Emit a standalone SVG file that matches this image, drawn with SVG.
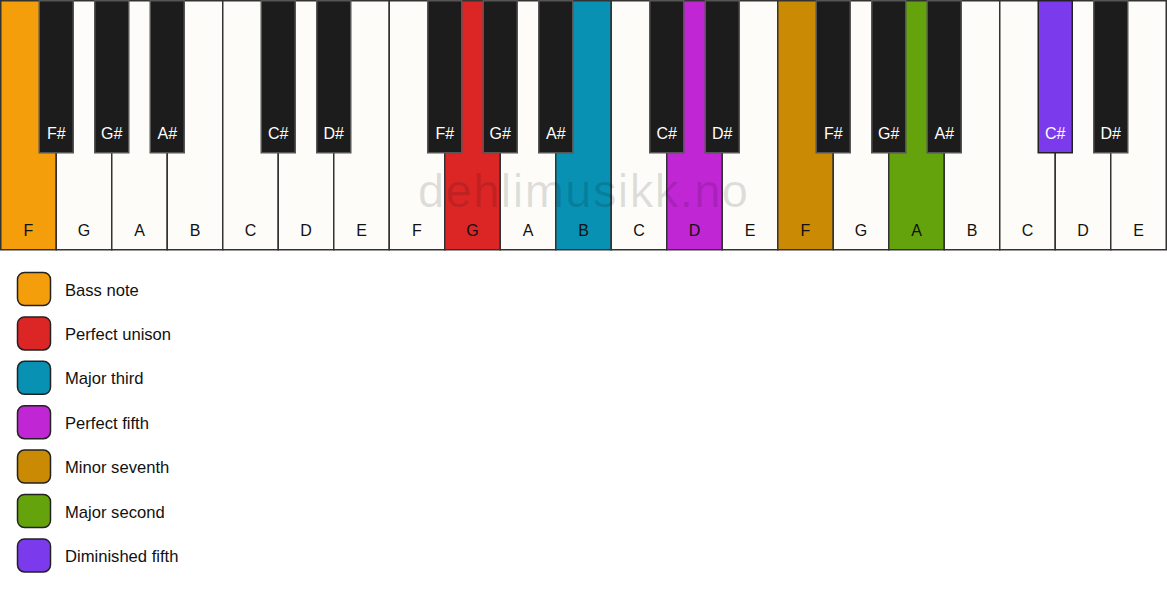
<svg xmlns="http://www.w3.org/2000/svg" width="1167" height="594" viewBox="0 0 1167 594">
<style>
.w{fill:#fdfcf8;stroke:#333;stroke-width:1.5}
.b{fill:#1c1c1c;stroke:#555;stroke-width:1.5}
.t{font-family:"Liberation Sans",Arial,sans-serif;font-size:16px;text-anchor:middle}
.tw{fill:#111}
.tb{fill:#fff}
.lg{stroke:#222;stroke-width:1.5}
.lt{font-family:"Liberation Sans",Arial,sans-serif;font-size:16.6px;fill:#111}
</style>
<rect width="1167" height="594" fill="#ffffff"/>
<g id="white-keys">
<g id="w0"><rect class="w" x="0.75" y="0.75" width="55.5" height="249" style="fill:#f59e0b"/><text class="t tw" x="28.5" y="236">F</text></g>
<g id="w1"><rect class="w" x="56.25" y="0.75" width="55.5" height="249"/><text class="t tw" x="84" y="236">G</text></g>
<g id="w2"><rect class="w" x="111.75" y="0.75" width="55.5" height="249"/><text class="t tw" x="139.5" y="236">A</text></g>
<g id="w3"><rect class="w" x="167.25" y="0.75" width="55.5" height="249"/><text class="t tw" x="195" y="236">B</text></g>
<g id="w4"><rect class="w" x="222.75" y="0.75" width="55.5" height="249"/><text class="t tw" x="250.5" y="236">C</text></g>
<g id="w5"><rect class="w" x="278.25" y="0.75" width="55.5" height="249"/><text class="t tw" x="306" y="236">D</text></g>
<g id="w6"><rect class="w" x="333.75" y="0.75" width="55.5" height="249"/><text class="t tw" x="361.5" y="236">E</text></g>
<g id="w7"><rect class="w" x="389.25" y="0.75" width="55.5" height="249"/><text class="t tw" x="417" y="236">F</text></g>
<g id="w8"><rect class="w" x="444.75" y="0.75" width="55.5" height="249" style="fill:#dc2626"/><text class="t tw" x="472.5" y="236">G</text></g>
<g id="w9"><rect class="w" x="500.25" y="0.75" width="55.5" height="249"/><text class="t tw" x="528" y="236">A</text></g>
<g id="w10"><rect class="w" x="555.75" y="0.75" width="55.5" height="249" style="fill:#0891b2"/><text class="t tw" x="583.5" y="236">B</text></g>
<g id="w11"><rect class="w" x="611.25" y="0.75" width="55.5" height="249"/><text class="t tw" x="639" y="236">C</text></g>
<g id="w12"><rect class="w" x="666.75" y="0.75" width="55.5" height="249" style="fill:#c026d3"/><text class="t tw" x="694.5" y="236">D</text></g>
<g id="w13"><rect class="w" x="722.25" y="0.75" width="55.5" height="249"/><text class="t tw" x="750" y="236">E</text></g>
<g id="w14"><rect class="w" x="777.75" y="0.75" width="55.5" height="249" style="fill:#ca8a04"/><text class="t tw" x="805.5" y="236">F</text></g>
<g id="w15"><rect class="w" x="833.25" y="0.75" width="55.5" height="249"/><text class="t tw" x="861" y="236">G</text></g>
<g id="w16"><rect class="w" x="888.75" y="0.75" width="55.5" height="249" style="fill:#65a30d"/><text class="t tw" x="916.5" y="236">A</text></g>
<g id="w17"><rect class="w" x="944.25" y="0.75" width="55.5" height="249"/><text class="t tw" x="972" y="236">B</text></g>
<g id="w18"><rect class="w" x="999.75" y="0.75" width="55.5" height="249"/><text class="t tw" x="1027.5" y="236">C</text></g>
<g id="w19"><rect class="w" x="1055.25" y="0.75" width="55.5" height="249"/><text class="t tw" x="1083" y="236">D</text></g>
<g id="w20"><rect class="w" x="1110.75" y="0.75" width="55.5" height="249"/><text class="t tw" x="1138.5" y="236">E</text></g>
</g>
<g id="black-keys">
<g id="b1"><rect class="b" x="39.25" y="0.75" width="34" height="152"/><text class="t tb" x="56.25" y="139">F#</text></g>
<g id="b2"><rect class="b" x="94.75" y="0.75" width="34" height="152"/><text class="t tb" x="111.75" y="139">G#</text></g>
<g id="b3"><rect class="b" x="150.25" y="0.75" width="34" height="152"/><text class="t tb" x="167.25" y="139">A#</text></g>
<g id="b5"><rect class="b" x="261.25" y="0.75" width="34" height="152"/><text class="t tb" x="278.25" y="139">C#</text></g>
<g id="b6"><rect class="b" x="316.75" y="0.75" width="34" height="152"/><text class="t tb" x="333.75" y="139">D#</text></g>
<g id="b8"><rect class="b" x="427.75" y="0.75" width="34" height="152"/><text class="t tb" x="444.75" y="139">F#</text></g>
<g id="b9"><rect class="b" x="483.25" y="0.75" width="34" height="152"/><text class="t tb" x="500.25" y="139">G#</text></g>
<g id="b10"><rect class="b" x="538.75" y="0.75" width="34" height="152"/><text class="t tb" x="555.75" y="139">A#</text></g>
<g id="b12"><rect class="b" x="649.75" y="0.75" width="34" height="152"/><text class="t tb" x="666.75" y="139">C#</text></g>
<g id="b13"><rect class="b" x="705.25" y="0.75" width="34" height="152"/><text class="t tb" x="722.25" y="139">D#</text></g>
<g id="b15"><rect class="b" x="816.25" y="0.75" width="34" height="152"/><text class="t tb" x="833.25" y="139">F#</text></g>
<g id="b16"><rect class="b" x="871.75" y="0.75" width="34" height="152"/><text class="t tb" x="888.75" y="139">G#</text></g>
<g id="b17"><rect class="b" x="927.25" y="0.75" width="34" height="152"/><text class="t tb" x="944.25" y="139">A#</text></g>
<g id="b19"><rect class="b" x="1038.25" y="0.75" width="34" height="152" style="fill:#7c3aed;stroke:#222"/><text class="t tb" x="1055.25" y="139">C#</text></g>
<g id="b20"><rect class="b" x="1093.75" y="0.75" width="34" height="152"/><text class="t tb" x="1110.75" y="139">D#</text></g>
</g>
<text id="watermark" x="583" y="207" font-family="Liberation Sans,Arial,sans-serif" font-size="47" text-anchor="middle" fill="#000" fill-opacity="0.12" textLength="330" lengthAdjust="spacing">dehlimusikk.no</text>
<g id="legend">
<g id="lg1"><rect class="lg" x="17.5" y="272.5" width="33" height="33" rx="7" fill="#f59e0b"/><text class="lt" x="65" y="295.5">Bass note</text></g>
<g id="lg2"><rect class="lg" x="17.5" y="316.9" width="33" height="33" rx="7" fill="#dc2626"/><text class="lt" x="65" y="339.9">Perfect unison</text></g>
<g id="lg3"><rect class="lg" x="17.5" y="361.3" width="33" height="33" rx="7" fill="#0891b2"/><text class="lt" x="65" y="384.3">Major third</text></g>
<g id="lg4"><rect class="lg" x="17.5" y="405.7" width="33" height="33" rx="7" fill="#c026d3"/><text class="lt" x="65" y="428.7">Perfect fifth</text></g>
<g id="lg5"><rect class="lg" x="17.5" y="450.1" width="33" height="33" rx="7" fill="#ca8a04"/><text class="lt" x="65" y="473.1">Minor seventh</text></g>
<g id="lg6"><rect class="lg" x="17.5" y="494.5" width="33" height="33" rx="7" fill="#65a30d"/><text class="lt" x="65" y="517.5">Major second</text></g>
<g id="lg7"><rect class="lg" x="17.5" y="538.9" width="33" height="33" rx="7" fill="#7c3aed"/><text class="lt" x="65" y="561.9">Diminished fifth</text></g>
</g>
</svg>
